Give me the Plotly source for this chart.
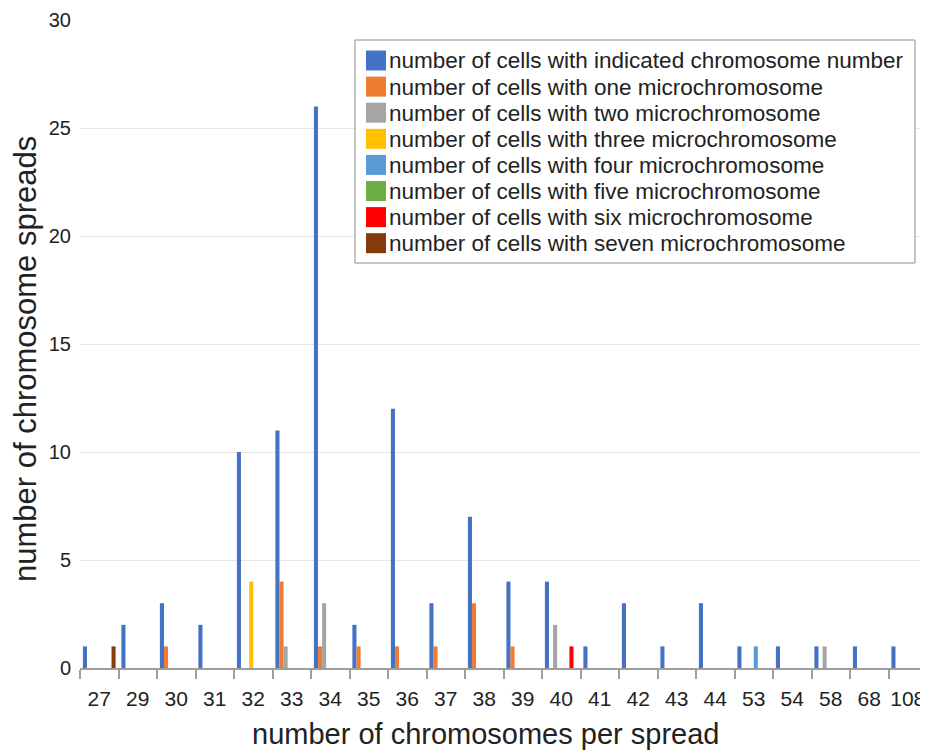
import plotly.graph_objects as go

categories = ["27", "29", "30", "31", "32", "33", "34", "35", "36", "37", "38",
              "39", "40", "41", "42", "43", "44", "53", "54", "58", "68", "108"]

series_names = [
    "number of cells with indicated chromosome number",
    "number of cells with one microchromosome",
    "number of cells with two microchromosome",
    "number of cells with three microchromosome",
    "number of cells with four microchromosome",
    "number of cells with five microchromosome",
    "number of cells with six microchromosome",
    "number of cells with seven microchromosome",
]
series_colors = ["#4472C4", "#ED7D31", "#A5A5A5", "#FFC000",
                 "#5B9BD5", "#70AD47", "#FF0000", "#843C0C"]

indicated = [1, 2, 3, 2, 10, 11, 26, 2, 12, 3, 7, 4, 4, 1, 3, 1, 3, 1, 1, 1, 1, 1]
one_micro = [0, 0, 1, 0, 0, 4, 1, 1, 1, 1, 3, 1, 0, 0, 0, 0, 0, 0, 0, 0, 0, 0]
two_micro = [0, 0, 0, 0, 0, 1, 3, 0, 0, 0, 0, 0, 2, 0, 0, 0, 0, 0, 0, 1, 0, 0]
three_micro = [0, 0, 0, 0, 4, 0, 0, 0, 0, 0, 0, 0, 0, 0, 0, 0, 0, 0, 0, 0, 0, 0]
four_micro = [0, 0, 0, 0, 0, 0, 0, 0, 0, 0, 0, 0, 0, 0, 0, 0, 0, 1, 0, 0, 0, 0]
five_micro = [0, 0, 0, 0, 0, 0, 0, 0, 0, 0, 0, 0, 0, 0, 0, 0, 0, 0, 0, 0, 0, 0]
six_micro = [0, 0, 0, 0, 0, 0, 0, 0, 0, 0, 0, 0, 1, 0, 0, 0, 0, 0, 0, 0, 0, 0]
seven_micro = [1, 0, 0, 0, 0, 0, 0, 0, 0, 0, 0, 0, 0, 0, 0, 0, 0, 0, 0, 0, 0, 0]

y_ticks = [0, 5, 10, 15, 20, 25, 30]
x_title = "number of chromosomes per spread"
y_title = "number of chromosome spreads"

all_series = [indicated, one_micro, two_micro, three_micro,
              four_micro, five_micro, six_micro, seven_micro]

# page body has an 8px margin; figure is placed at (8, 8) in the window
OFF = 8
W, H = 928 - OFF, 751 - OFF
ML, MR, MT, MB = 80 - OFF, 1, 20 - OFF, 751 - 668
PW, PH = W - ML - MR, H - MT - MB
FONT = "Liberation Sans, Arial, sans-serif"
TXT = "#222222"


def px(xp):
    # window pixel -> paper fraction
    return (xp - OFF - ML) / PW


def py(yp):
    return (H - MB - (yp - OFF)) / PH


fig = go.Figure()
for name, vals, col in zip(series_names, all_series, series_colors):
    fig.add_trace(go.Bar(x=categories, y=vals, name=name,
                         marker=dict(color=col, line=dict(width=0)),
                         showlegend=False))

# manual legend (box, swatches, labels)
LX0, LY0, LX1, LY1 = 355, 40, 915, 263
ROW0, ROWH = 60.5, 26.1
shapes = [dict(type="rect", xref="paper", yref="paper",
               x0=px(LX0), x1=px(LX1), y0=py(LY1), y1=py(LY0),
               line=dict(color="#8c8c8c", width=1), fillcolor="white", layer="above")]
annotations = []
for i, (name, col) in enumerate(zip(series_names, series_colors)):
    cy = ROW0 + i * ROWH
    shapes.append(dict(type="rect", xref="paper", yref="paper",
                       x0=px(366), x1=px(386), y0=py(cy + 10), y1=py(cy - 10),
                       line=dict(width=0), fillcolor=col, layer="above"))
    annotations.append(dict(xref="paper", yref="paper", x=px(387), y=py(cy + 0.5),
                            xanchor="left", yanchor="middle", showarrow=False,
                            text=name, font=dict(family=FONT, size=22.5, color=TXT)))

# axis titles
annotations.append(dict(xref="paper", yref="paper", x=px(485), y=py(734),
                        xanchor="center", yanchor="middle", showarrow=False,
                        text=x_title, font=dict(family=FONT, size=29, color=TXT)))
annotations.append(dict(xref="paper", yref="paper", x=px(25), y=py(359),
                        xanchor="center", yanchor="middle", showarrow=False,
                        textangle=-90,
                        text=y_title, font=dict(family=FONT, size=31, color=TXT)))

fig.update_layout(
    width=W, height=H,
    margin=dict(l=ML, r=MR, t=MT, b=MB, autoexpand=False),
    paper_bgcolor="white", plot_bgcolor="white",
    barmode="group", bargap=0.15, bargroupgap=0,
    font=dict(family=FONT, color=TXT),
    shapes=shapes, annotations=annotations,
    showlegend=False,
    xaxis=dict(type="category", categoryorder="array", categoryarray=categories,
               showgrid=False, showline=True, linecolor="#9e9e9e", linewidth=2,
               ticks="outside", tickson="boundaries", ticklen=9, tickwidth=1.5,
               tickcolor="#9e9e9e", tickangle=0, automargin=False,
               ticklabelstandoff=11,
               tickfont=dict(size=21, color=TXT),
               range=[-0.5, len(categories) - 0.5], fixedrange=True),
    yaxis=dict(range=[0, 30], tickvals=y_ticks, showgrid=True, gridcolor="#e6e6e6",
               gridwidth=1, zeroline=False, showline=False, ticks="",
               ticklabelstandoff=8, automargin=False,
               tickfont=dict(size=20, color=TXT),
               fixedrange=True),
)

fig.write_html("out.html")
